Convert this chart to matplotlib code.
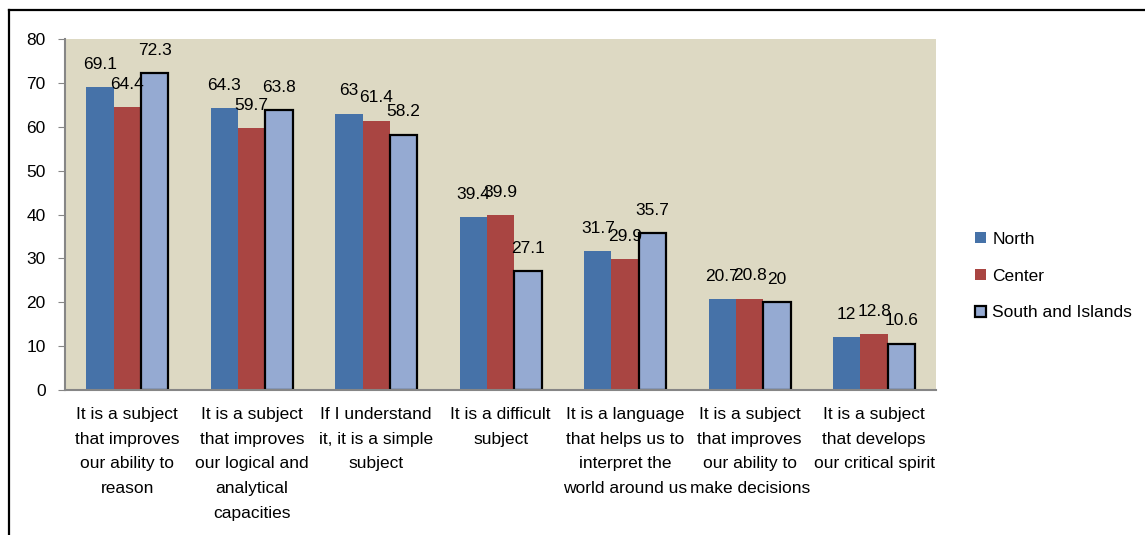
import numpy as np
import matplotlib.pyplot as plt
from matplotlib.lines import Line2D

plt.rcParams['font.family'] = ['Liberation Sans', 'DejaVu Sans']

categories = [
    'It is a subject\nthat improves\nour ability to\nreason',
    'It is a subject\nthat improves\nour logical and\nanalytical\ncapacities',
    'If I understand\nit, it is a simple\nsubject',
    'It is a difficult\nsubject',
    'It is a language\nthat helps us to\ninterpret the\nworld around us',
    'It is a subject\nthat improves\nour ability to\nmake decisions',
    'It is a subject\nthat develops\nour critical spirit',
]
north = [69.1, 64.3, 63, 39.4, 31.7, 20.7, 12]
center = [64.4, 59.7, 61.4, 39.9, 29.9, 20.8, 12.8]
south = [72.3, 63.8, 58.2, 27.1, 35.7, 20, 10.6]
series_names = ['North', 'Center', 'South and Islands']
yticks = [0, 10, 20, 30, 40, 50, 60, 70, 80]

fs = 12.5
fig = plt.figure(figsize=(11.45, 5.35), dpi=100)
ax = fig.add_axes([0.0568, 0.271, 0.761, 0.656])
ax.set_facecolor('#DDD9C3')

x = np.arange(len(categories))
w = 0.22
colors = ['#4672A8', '#A94542', '#95AAD2']
edges = ['none', 'none', 'black']
lws = [0, 0, 1.6]
for i, (vals, name) in enumerate(zip([north, center, south], series_names)):
    bars = ax.bar(x + (i - 1) * w, vals, w, color=colors[i], edgecolor=edges[i],
                  linewidth=lws[i], label=name)
    for b, v in zip(bars, vals):
        ax.annotate('%g' % v, (b.get_x() + b.get_width() / 2, v),
                    xytext=(0, 11), textcoords='offset points',
                    ha='center', va='bottom', fontsize=fs)

ax.set_xlim(-0.5, len(categories) - 0.5)
ax.set_ylim(0, 80)
ax.set_yticks(yticks)
ax.set_xticks(x)
ax.set_xticklabels(categories, fontsize=fs, linespacing=1.82)
ax.tick_params(axis='x', length=0, pad=12)
ax.tick_params(axis='y', length=5, color='#868686', labelsize=fs, pad=9)
for s in ['top', 'right']:
    ax.spines[s].set_visible(False)
for s in ['left', 'bottom']:
    ax.spines[s].set_color('#868686')
    ax.spines[s].set_linewidth(1.5)

fig.legend(loc='center left', bbox_to_anchor=(0.838, 0.484), frameon=False,
           fontsize=fs, handlelength=0.6, handleheight=0.6, handletextpad=0.4,
           labelspacing=1.25)

# outer frame (top and left visible)
fig.add_artist(Line2D([9 / 1145, 1], [1 - 9.5 / 535] * 2, color='black', lw=1.6))
fig.add_artist(Line2D([9 / 1145] * 2, [0, 1 - 9.5 / 535], color='black', lw=1.6))

fig.savefig('out.png', dpi=100)
